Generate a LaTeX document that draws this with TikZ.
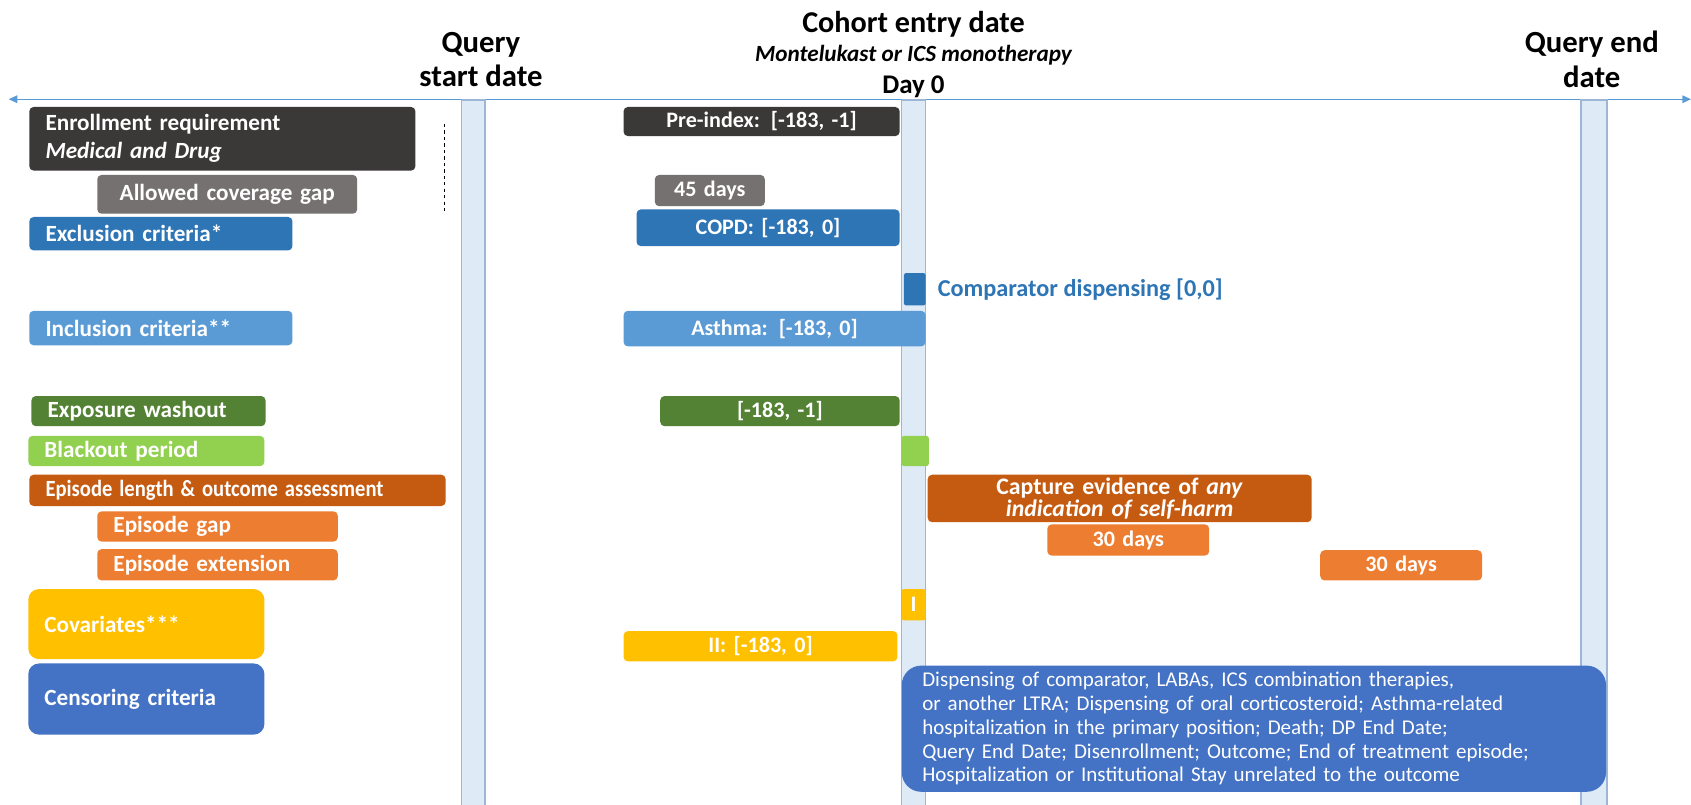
\documentclass[tikz,border=0pt]{standalone}
\usepackage{fontspec}
\usepackage{graphicx}
\setmainfont{Carlito}
\usetikzlibrary{arrows.meta}
\definecolor{cenroll}{RGB}{ 59, 56, 56}
\definecolor{cgap}{RGB}{118,113,113}
\definecolor{cexcl}{RGB}{ 46,117,182}
\definecolor{cincl}{RGB}{ 91,155,213}
\definecolor{cwash}{RGB}{ 84,130, 53}
\definecolor{cblack}{RGB}{146,208, 80}
\definecolor{cepis}{RGB}{197, 90, 17}
\definecolor{cepgap}{RGB}{237,125, 49}
\definecolor{ccov}{RGB}{255,192,  0}
\definecolor{ccens}{RGB}{ 68,114,196}
\definecolor{cdatefill}{RGB}{222,235,247}
\definecolor{cdateline}{RGB}{157,182,214}
\definecolor{caxis}{RGB}{ 91,155,213}
\newcommand{\tlpad}{15}
\newcommand{\tlbox}[7][]{%
  \pgfmathsetmacro{\bw}{#5-#3-2*\tlpad}%
  \pgfmathsetmacro{\bh}{#6-#4}%
  \node[tlbox,text width=\bw pt,minimum height=\bh pt,#1] (#2) at (#3,#4) {#7};
}

\begin{document}
\begin{tikzpicture}[x=1pt,y=-1pt,
  tlbox/.style={anchor=north west,rounded corners=4pt,text=white,inner xsep=\tlpad pt,
    inner ysep=0pt,align=center,font=\fontsize{21.5}{24}\selectfont\bfseries},
  winfont/.style={font=\fontsize{20.5}{23}\selectfont\bfseries},
  datebar/.style={anchor=north,draw=cdateline,fill=cdatefill,line width=1.5pt,
    minimum height=654pt,inner sep=0pt},
  title/.style={align=center,font=\fontsize{28.5}{32}\selectfont\bfseries}]

  % Explicit bounding box, same proportions as the reference.
  \useasboundingbox (0,0) rectangle (1568,746);

  % ---------------- Time axis and dates ----------------
  \coordinate (axis west) at (8,92);
  \coordinate (axis east) at (1568,92);
  \draw[caxis,line width=1.2pt,{Triangle[length=8pt,width=7pt]}-{Triangle[length=8pt,width=7pt]}]
    (axis west) -- (axis east);

  \node[datebar,minimum width=22pt] (qstart) at (439,92) {};
  \node[datebar,minimum width=22pt] (cohort) at (847,92) {};
  \node[datebar,minimum width=24pt] (qend) at (1478,92) {};

  \node[title] (qstartlbl) at (446,55) {Query\\start date};
  \node[title] (qendlbl) at (1476,55) {Query end\\date};
  \node[anchor=base,font=\fontsize{28}{30}\selectfont\bfseries] (cohortlbl) at (847,30)
    {Cohort entry date};
  \node[anchor=base,font=\fontsize{21.5}{24}\selectfont\bfseries\itshape] (cohortdrug) at (847,57)
    {Montelukast or ICS monotherapy};
  \node[anchor=base,font=\fontsize{25}{28}\selectfont\bfseries] (dayzero) at (847,87) {Day 0};

  % ---------------- Criteria (left) ----------------
  \tlbox[fill=cenroll,align=left,font=\fontsize{21.5}{26}\selectfont\bfseries]{enroll}{27}{99}{385}{158}
    {Enrollment requirement\\\textit{Medical and Drug}}
  \tlbox[fill=cgap]{covgap}{90}{162}{331}{198}{Allowed coverage gap}
  \draw[dashed,line width=0.8pt] (412,115) -- (412,198);
  \tlbox[fill=cexcl,align=left]{excl}{27}{201}{271}{232}{Exclusion criteria*}
  \tlbox[fill=cincl,align=left]{incl}{27}{288}{271}{320}{Inclusion criteria**}
  \tlbox[fill=cwash,align=left]{wash}{29}{367}{246}{395}{Exposure washout}
  \tlbox[fill=cblack,align=left]{blackout}{26}{404}{245}{432}{Blackout period}
  \tlbox[fill=cepis,align=left]{episode}{27}{440}{413}{469}
    {\scalebox{0.89}[1]{Episode length \& outcome assessment}}
  \tlbox[fill=cepgap,align=left]{epgap}{90}{474}{313}{502}{Episode gap}
  \tlbox[fill=cepgap,align=left]{epext}{90}{509}{313}{538}{Episode extension}
  \tlbox[fill=ccov,align=left,rounded corners=10pt]{cov}{26}{546}{245}{611}{Covariates***}
  \tlbox[fill=ccens,align=left,rounded corners=10pt]{cens}{26}{615}{245}{681}{Censoring criteria}

  % ---------------- Windows around day 0 ----------------
  \tlbox[fill=cenroll,winfont]{preindex}{578}{99}{834}{126}{Pre-index: [-183, -1]}
  \tlbox[fill=cgap,winfont]{gapdays}{607}{162}{709}{191}{45 days}
  \tlbox[fill=cexcl,winfont]{copd}{590}{194}{834}{228}{COPD: [-183, 0]}
  \node[tlbox,fill=cexcl,inner sep=0pt,minimum width=20pt,minimum height=30pt,rounded corners=2pt]
    (compday) at (838,253) {};
  \node[anchor=west,text=cexcl,font=\fontsize{22.5}{24}\selectfont\bfseries] (complbl) at (866,269)
    {Comparator dispensing [0,0]};
  \tlbox[fill=cincl,winfont]{asthma}{578}{288}{858}{321}{Asthma: [-183, 0]}
  \tlbox[fill=cwash,winfont]{washdays}{612}{367}{834}{395}{[-183, -1]}
  \node[tlbox,fill=cblack,inner sep=0pt,minimum width=25pt,minimum height=28pt,rounded corners=2pt]
    (blackday) at (836,404) {};
  \tlbox[fill=cepis,font=\fontsize{22}{21}\selectfont\bfseries]{capture}{860}{440}{1216}{484}
    {Capture evidence of \textit{any}\\\textit{indication of self-harm}}
  \tlbox[fill=cepgap,winfont]{epgapdays}{971}{486}{1121}{515}{30 days}
  \tlbox[fill=cepgap,winfont]{epextdays}{1224}{510}{1374}{538}{30 days}
  \node[tlbox,winfont,fill=ccov,inner sep=0pt,minimum width=22pt,minimum height=29pt,rounded corners=2pt]
    (covI) at (836,546) {I};
  \tlbox[fill=ccov,winfont]{covII}{578}{585}{832}{613}{II: [-183, 0]}

  % ---------------- Censoring list ----------------
  \node[tlbox,fill=ccens,rounded corners=18pt,text width=615pt,inner xsep=19pt,align=left,
    minimum height=117pt,font=\fontsize{19.5}{22}\selectfont] (censlist) at (836,617)
    {Dispensing of comparator, LABAs, ICS combination therapies,\\
     or another LTRA; Dispensing of oral corticosteroid; Asthma-related\\
     hospitalization in the primary position; Death; DP End Date;\\
     Query End Date; Disenrollment; Outcome; End of treatment episode;\\
     Hospitalization or Institutional Stay unrelated to the outcome};

\end{tikzpicture}
\end{document}
